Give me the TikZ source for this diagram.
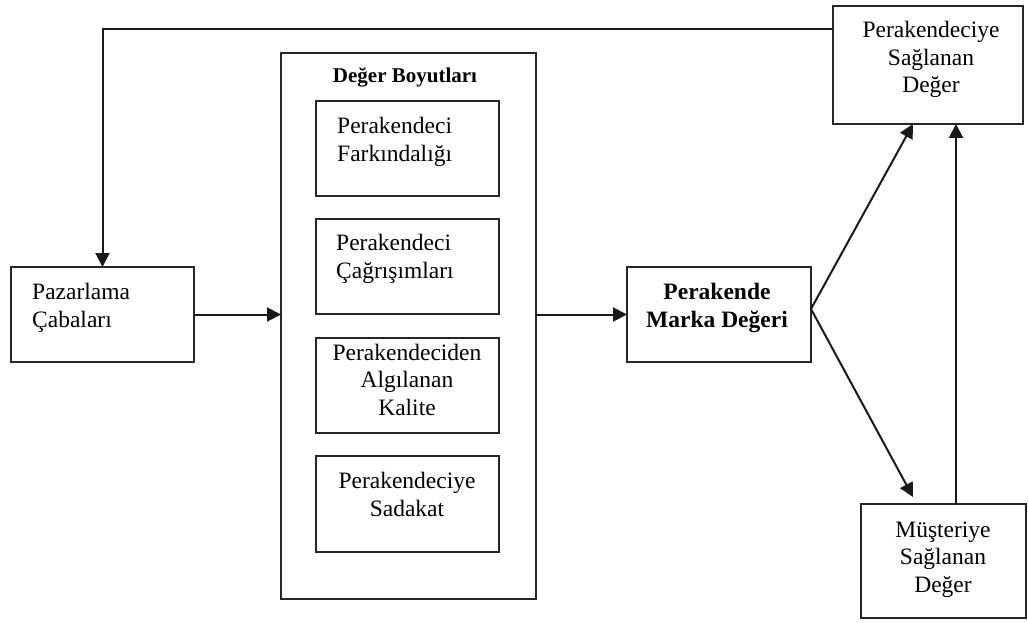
\documentclass[tikz,border=0pt]{standalone}
\usepackage{fontspec}
\setmainfont{Liberation Serif}
\usetikzlibrary{arrows.meta}
\begin{document}
\begin{tikzpicture}[x=1pt,y=-1pt,
  box/.style={draw=black!85, line width=2pt, rectangle, inner sep=0pt, outer sep=0pt},
  txt/.style={inner sep=0pt, font=\fontsize{23.5}{27.5}\selectfont},
  btxt/.style={txt, font=\fontsize{23.5}{27.5}\selectfont\bfseries},
  arr/.style={draw=black!90, line width=2pt, -{Triangle[length=14pt,width=14pt]}}]
\useasboundingbox (0,0) rectangle (1028,623);

% boxes
\node[box, minimum width=183pt, minimum height=95pt] (pz) at (102.5,314.5) {};
\node[box, minimum width=255pt, minimum height=546pt] (big) at (408.5,326) {};
\node[box, minimum width=183pt, minimum height=95pt] (d1) at (407.5,148.5) {};
\node[box, minimum width=183pt, minimum height=95pt] (d2) at (407.5,266.5) {};
\node[box, minimum width=183pt, minimum height=95pt] (d3) at (407.5,385.5) {};
\node[box, minimum width=183pt, minimum height=96pt] (d4) at (407.5,504) {};
\node[box, minimum width=184pt, minimum height=95pt] (mk) at (719,314.5) {};
\node[box, minimum width=190pt, minimum height=118pt] (psd) at (928,65) {};
\node[box, minimum width=165pt, minimum height=114pt] (ms) at (943.5,561) {};

% texts (anchor base = baseline of the last line)
\node[txt, anchor=base west, align=left] (tpz) at (32,327) {Pazarlama\\Çabaları};
\node[inner sep=0pt, anchor=base, font=\fontsize{21}{25}\selectfont\bfseries] (tbig) at (405,83) {Değer Boyutları};
\node[txt, anchor=base west, align=left] (t1) at (337,161) {Perakendeci\\Farkındalığı};
\node[txt, anchor=base west, align=left] (t2) at (336,278) {Perakendeci\\Çağrışımları};
\node[txt, anchor=base, align=center] (t3) at (407,415) {Perakendeciden\\Algılanan\\Kalite};
\node[txt, anchor=base, align=center] (t4) at (407,516) {Perakendeciye\\Sadakat};
\node[btxt, anchor=base, align=center] (tmk) at (717,327) {Perakende\\Marka Değeri};
\node[txt, anchor=base, align=center] (tpsd) at (931,93) {Perakendeciye\\Sağlanan\\Değer};
\node[txt, anchor=base, align=center] (tms) at (943,592) {Müşteriye\\Sağlanan\\Değer};

% connectors
\draw[arr] ([yshift=36pt]psd.west) -| (pz.north);
\draw[arr] (pz.east) -- (big.west |- pz.east);
\draw[arr] (big.east |- mk.west) -- (mk.west);
\draw[arr] ([yshift=5.5pt]mk.east) -- ([xshift=-15pt]psd.south);
\draw[arr] ([yshift=5.5pt]mk.east) -- ([xshift=-30.5pt,yshift=7pt]ms.north);
\draw[arr] ([xshift=12.5pt]ms.north) -- ([xshift=12.5pt]ms.north |- psd.south);
\end{tikzpicture}
\end{document}
